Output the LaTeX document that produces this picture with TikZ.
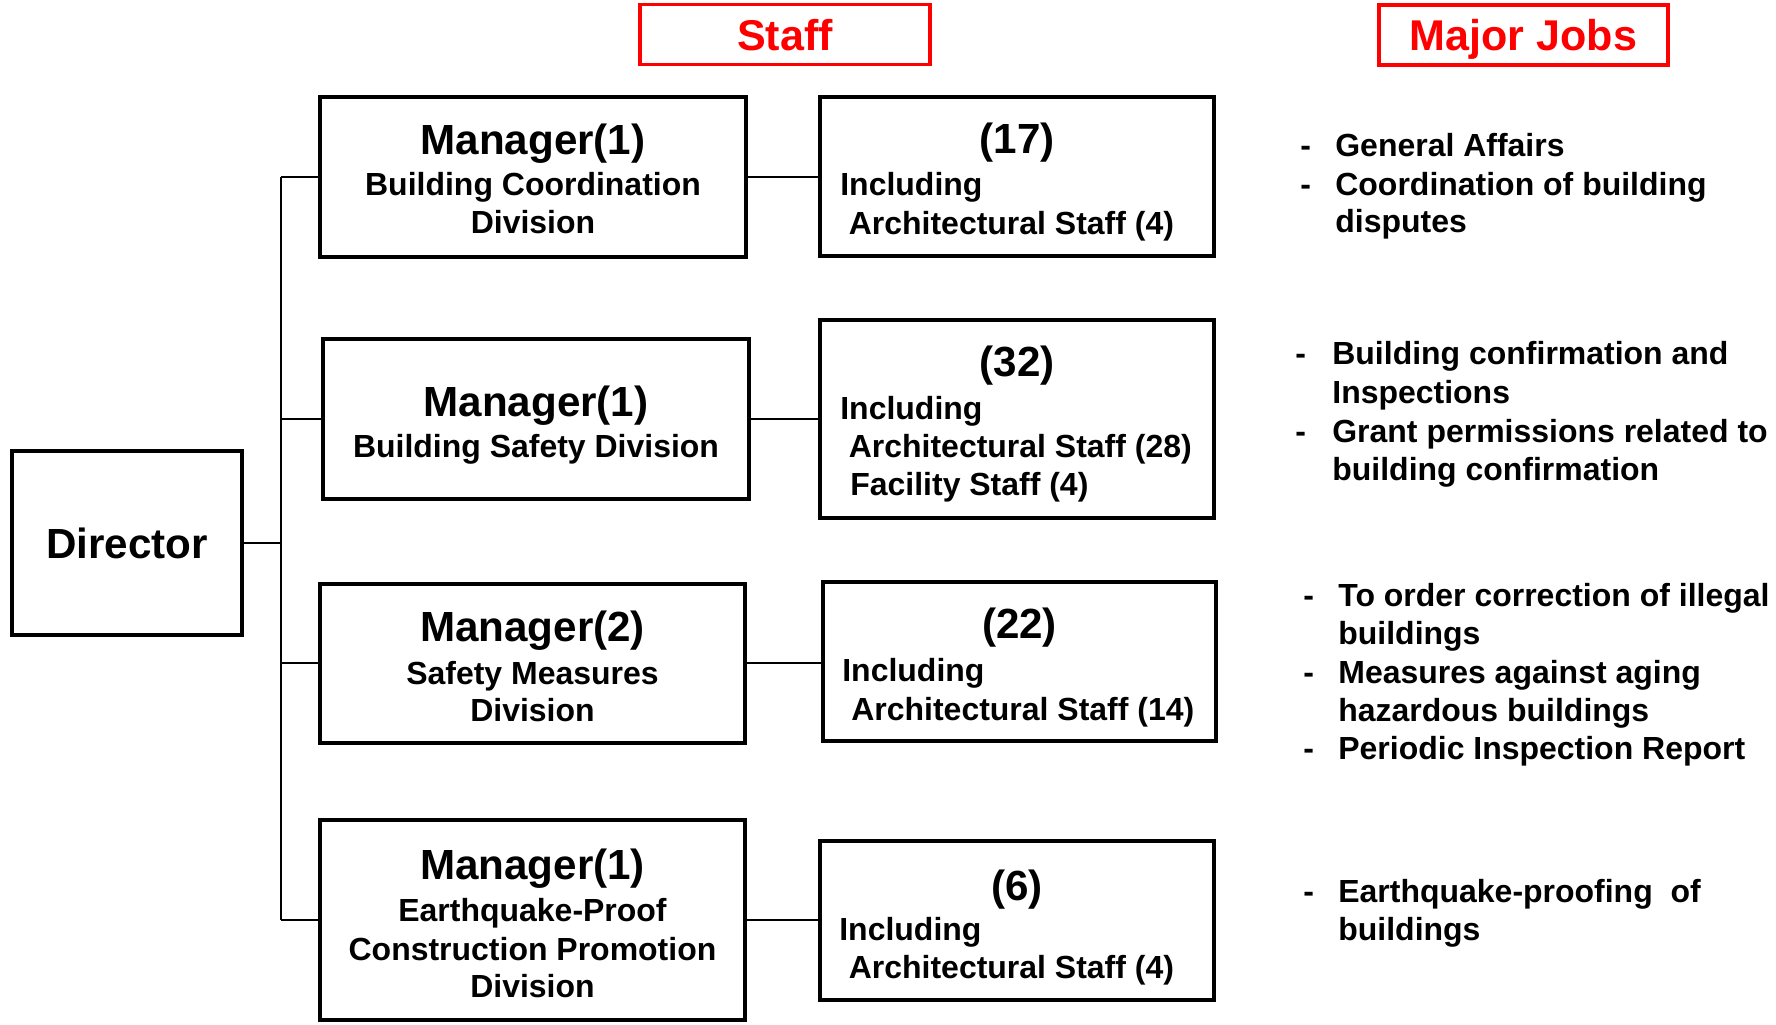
\documentclass[tikz,border=0pt]{standalone}
\usepackage{fontspec}
\setmainfont{Liberation Sans}

\begin{document}
\begin{tikzpicture}[x=0.02cm, y=-0.02cm,
    unit/.style={draw, line width=2.3pt, inner sep=0pt},
    head/.style={draw=red, line width=2.2pt, text=red, text depth=0pt,
      font=\fontsize{24.5}{29}\selectfont\bfseries},
    big/.style={font=\fontsize{24}{29}\selectfont\bfseries, inner sep=0pt, anchor=base},
    txt/.style={font=\fontsize{18.2}{22}\selectfont\bfseries, inner sep=0pt, anchor=base},
    lft/.style={txt, anchor=base west},
    link/.style={line width=1.3pt}]
  \useasboundingbox (0,0) rectangle (1776,1025);

  \node[head, minimum width=5.8cm, minimum height=1.2cm] (staff) at (785,34.5) {Staff};
  \node[head, minimum width=5.78cm, minimum height=1.2cm] (jobs) at (1523.5,35) {Major Jobs};

  \node[unit, minimum width=4.6cm, minimum height=3.68cm,
    font=\fontsize{24}{29}\selectfont\bfseries] (dir) at (127,543) {Director};

  % divisions
  \node[unit, minimum width=8.52cm, minimum height=3.2cm] (m1) at (533,176.7) {};
  \node[big] (m1a) at (533,154) {Manager(1)};
  \node[txt] (m1b) at (533,195.5) {Building Coordination};
  \node[txt] (m1c) at (533,233.5) {Division};

  \node[unit, minimum width=8.52cm, minimum height=3.2cm] (m2) at (536,419) {};
  \node[big] (m2a) at (536,416.7) {Manager(1)};
  \node[txt] (m2b) at (536,457) {Building Safety Division};

  \node[unit, minimum width=8.5cm, minimum height=3.17cm] (m3) at (532.5,663.3) {};
  \node[big] (m3a) at (532.5,641.7) {Manager(2)};
  \node[txt] (m3b) at (532.5,684) {Safety Measures};
  \node[txt] (m3c) at (532.5,721.5) {Division};

  \node[unit, minimum width=8.5cm, minimum height=4cm] (m4) at (532.5,920) {};
  \node[big] (m4a) at (532.5,879) {Manager(1)};
  \node[txt] (m4b) at (532.5,921) {Earthquake-Proof};
  \node[txt] (m4c) at (532.5,960) {Construction Promotion};
  \node[txt] (m4d) at (532.5,997.5) {Division};

  % staff numbers
  \node[unit, minimum width=7.88cm, minimum height=3.19cm] (s1) at (1017,176.3) {};
  \node[big] (s1a) at (1017,153.3) {(17)};
  \node[lft] (s1b) at (840,195.5) {Including};
  \node[lft] (s1c) at (848.5,234) {Architectural Staff (4)};

  \node[unit, minimum width=7.88cm, minimum height=3.95cm] (s2) at (1017,418.8) {};
  \node[big] (s2a) at (1017,376.5) {(32)};
  \node[lft] (s2b) at (840,419) {Including};
  \node[lft] (s2c) at (848.5,457) {Architectural Staff (28)};
  \node[lft] (s2d) at (850,495.5) {Facility Staff (4)};

  \node[unit, minimum width=7.86cm, minimum height=3.18cm] (s3) at (1019.5,661.2) {};
  \node[big] (s3a) at (1019.5,638.3) {(22)};
  \node[lft] (s3b) at (842,681) {Including};
  \node[lft] (s3c) at (851,720) {Architectural Staff (14)};

  \node[unit, minimum width=7.88cm, minimum height=3.19cm] (s4) at (1017,920.3) {};
  \node[big] (s4a) at (1017,900.5) {(6)};
  \node[lft] (s4b) at (839,940) {Including};
  \node[lft] (s4c) at (848.5,978.5) {Architectural Staff (4)};

  % jobs
  \foreach \x/\y [count=\n] in {1300/156, 1300/195, 1295/364, 1295/442,
      1303/606, 1303/683.5, 1303/759, 1303/902}
    \node[lft] (d\n) at (\x,\y) {-};
  \node[lft] (j1) at (1335,156) {General Affairs};
  \node[lft] (j2) at (1335,195) {Coordination of building};
  \node[lft] (j3) at (1335,232.5) {disputes};
  \node[lft] (j4) at (1332,364) {Building confirmation and};
  \node[lft] (j5) at (1332,403) {Inspections};
  \node[lft] (j6) at (1332,442) {Grant permissions related to};
  \node[lft] (j7) at (1332,480) {building confirmation};
  \node[lft] (j8) at (1338,606) {To order correction of illegal};
  \node[lft] (j9) at (1338,644.5) {buildings};
  \node[lft] (j10) at (1338,683.5) {Measures against aging};
  \node[lft] (j11) at (1338,721) {hazardous buildings};
  \node[lft] (j12) at (1338,759) {Periodic Inspection Report};
  \node[lft] (j13) at (1338,902) {Earthquake-proofing\ \ of};
  \node[lft] (j14) at (1338,940.5) {buildings};

  \coordinate (trunk) at (281,0);
  \draw[link] (dir.east) -- (dir.east -| trunk);
  \draw[link] (m1.west -| trunk) -- (m4.west -| trunk);
  \foreach \i in {1,...,4} {
    \draw[link] (m\i.west -| trunk) -- (m\i.west);
    \draw[link] (m\i.east) -- (m\i.east -| s\i.west);
  }
\end{tikzpicture}
\end{document}
